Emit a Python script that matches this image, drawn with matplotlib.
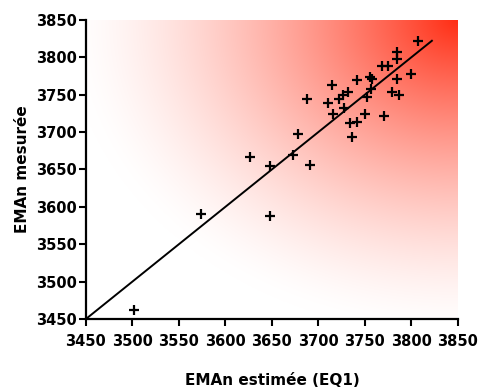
import numpy as np
import matplotlib
matplotlib.use("Agg")
import matplotlib.pyplot as plt

# EMAn estimée (EQ1) vs EMAn mesurée
emaN_est = [3502, 3574, 3626, 3648, 3648, 3673, 3678, 3688, 3691, 3710,
            3715, 3716, 3722, 3726, 3728, 3732, 3734, 3736, 3741, 3742,
            3750, 3752, 3755, 3757, 3758, 3768, 3770, 3775, 3779, 3784,
            3784, 3784, 3787, 3800, 3807]
emaN_mes = [3462, 3590, 3667, 3588, 3655, 3669, 3698, 3744, 3656, 3739,
            3763, 3724, 3744, 3750, 3732, 3753, 3712, 3694, 3769, 3714,
            3724, 3747, 3773, 3758, 3771, 3788, 3722, 3788, 3753, 3771,
            3797, 3807, 3749, 3778, 3822]
ticks = [3450, 3500, 3550, 3600, 3650, 3700, 3750, 3800, 3850]

plt.rcParams['font.family'] = 'DejaVu Sans'
plt.rcParams['font.weight'] = 'bold'

fig = plt.figure(figsize=(4.8, 3.89), dpi=100)
ax = fig.add_axes([0.179, 0.18, 0.775, 0.769])

# background gradient: white -> red towards the upper right corner
nx, ny = 300, 300
gx, gy = np.meshgrid(np.linspace(0, 1, nx), np.linspace(0, 1, ny))
d = np.sqrt((1 - gx) ** 2 + (1 - gy) ** 2) / 1.05
t = np.clip(1 - d, 0, 1) ** 1.5
red = np.array([1.0, 0.18, 0.08])
img = np.ones((ny, nx, 3)) * (1 - t[..., None]) + red * t[..., None]
ax.imshow(img, extent=[3450, 3850, 3450, 3850], origin='lower',
          aspect='auto', zorder=0)

ax.plot([3450, max(emaN_est) + 15], [3450, max(emaN_est) + 15],
        color='black', lw=1.4, zorder=2)
ax.plot(emaN_est, emaN_mes, '+', color='black', ms=7, mew=1.6, zorder=3)

ax.set_xlim(3450, 3850)
ax.set_ylim(3450, 3850)
ax.set_xticks(ticks)
ax.set_yticks(ticks)
ax.tick_params(axis='both', labelsize=10.5, width=1.5, length=5)
ax.tick_params(axis='x', pad=6)
ax.tick_params(axis='y', pad=1.5)
for s in ['top', 'right']:
    ax.spines[s].set_visible(False)
for s in ['left', 'bottom']:
    ax.spines[s].set_linewidth(1.6)

ax.set_xlabel("EMAn estimée (EQ1)", fontsize=11, fontweight='bold', labelpad=17)
ax.set_ylabel("EMAn mesurée", fontsize=11, fontweight='bold', labelpad=4)

fig.savefig("out.png", dpi=100)
